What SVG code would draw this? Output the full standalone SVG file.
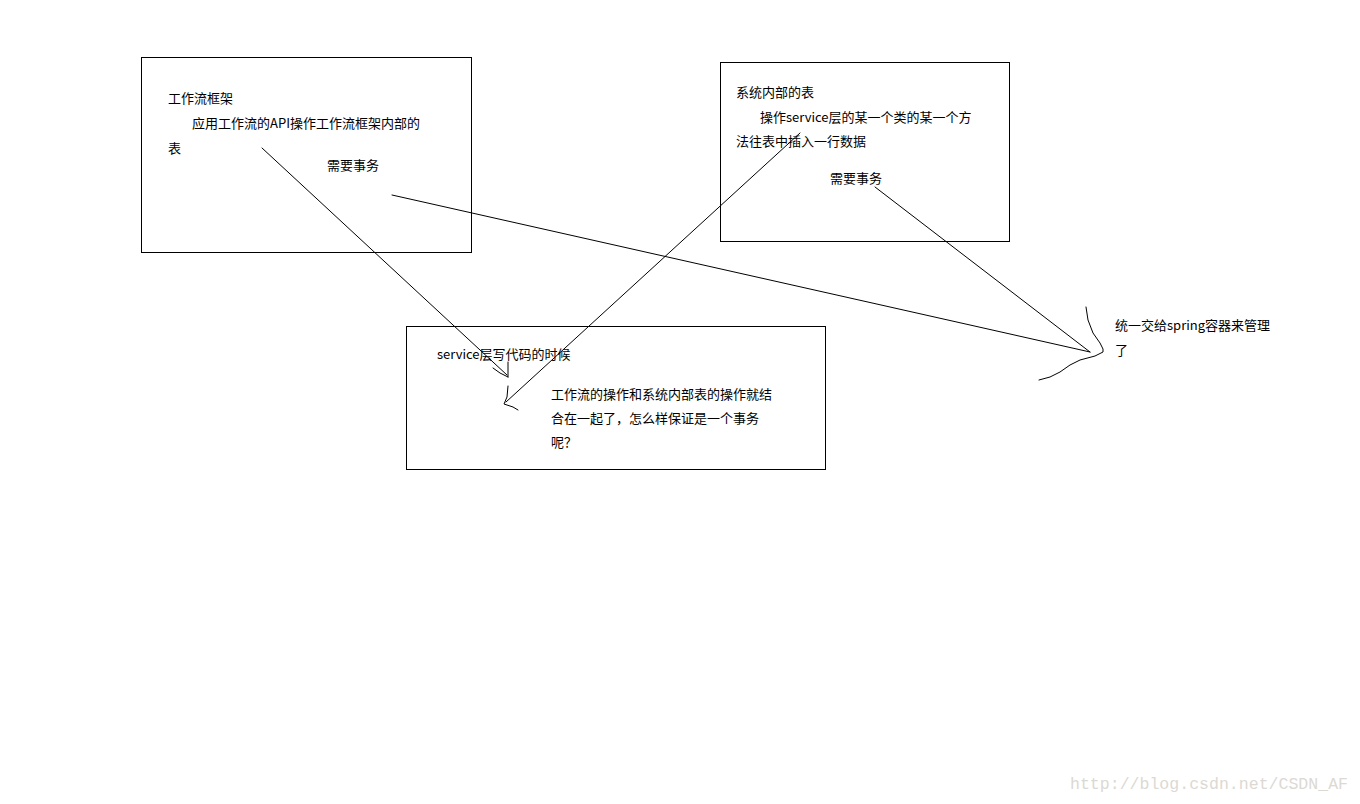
<svg xmlns="http://www.w3.org/2000/svg" width="1360" height="804" viewBox="0 0 1360 804">
<style>
.box{fill:none;stroke:#000;stroke-width:1}
.t{font-family:"Microsoft YaHei","Noto Sans CJK SC",sans-serif;font-size:13px;fill:#000}
.ln{fill:none;stroke:#000;stroke-width:1;stroke-linejoin:round;stroke-linecap:round}
.wm{font-family:"Liberation Mono",monospace;font-size:16px;fill:#dcd9d3}
</style>
<rect width="1360" height="804" fill="#fff"/>
<g id="node-workflow">
<rect class="box" x="141.5" y="57.5" width="330" height="195"/>
<text class="t" x="168" y="103">工作流框架</text>
<text class="t" x="192" y="128" textLength="228" lengthAdjust="spacingAndGlyphs">应用工作流的API操作工作流框架内部的</text>
<text class="t" x="168" y="153">表</text>
<text class="t" x="327" y="170">需要事务</text>
</g>
<g id="node-system">
<rect class="box" x="720.5" y="62.5" width="289" height="179"/>
<text class="t" x="736" y="97">系统内部的表</text>
<text class="t" x="760" y="122">操作service层的某一个类的某一个方</text>
<text class="t" x="736" y="146">法往表中插入一行数据</text>
<text class="t" x="830" y="183">需要事务</text>
</g>
<g id="node-service">
<rect class="box" x="406.5" y="326.5" width="419" height="143"/>
<text class="t" x="437" y="359">service层写代码的时候</text>
<text class="t" x="551" y="399">工作流的操作和系统内部表的操作就结</text>
<text class="t" x="551" y="423">合在一起了，怎么样保证是一个事务</text>
<text class="t" x="551" y="447">呢？</text>
</g>
<g id="node-spring">
<text class="t" x="1115" y="330">统一交给spring容器来管理</text>
<text class="t" x="1115" y="355">了</text>
</g>
<g id="connectors">
<path class="ln" d="M262,148 L507,375"/>
<path class="ln" d="M493,368 L500,373 L508,377 M508,362 L508,377"/>
<path class="ln" d="M800,133 L506,402"/>
<path class="ln" d="M508,386 L507,397 L504,404 L513,407 L518,410"/>
<path class="ln" d="M392,195 L1090,352"/>
<path class="ln" d="M875,187 L1090,352"/>
<path class="ln" d="M1086,307 L1088,320 L1093,333 L1100,343 L1103,349 L1103,352 L1095,356 L1080,360 L1070,365 L1060,372 L1050,377 L1039,380"/>
</g>
<text class="wm" x="1070" y="789" textLength="278" lengthAdjust="spacingAndGlyphs">http://blog.csdn.net/CSDN_AF</text>
</svg>
